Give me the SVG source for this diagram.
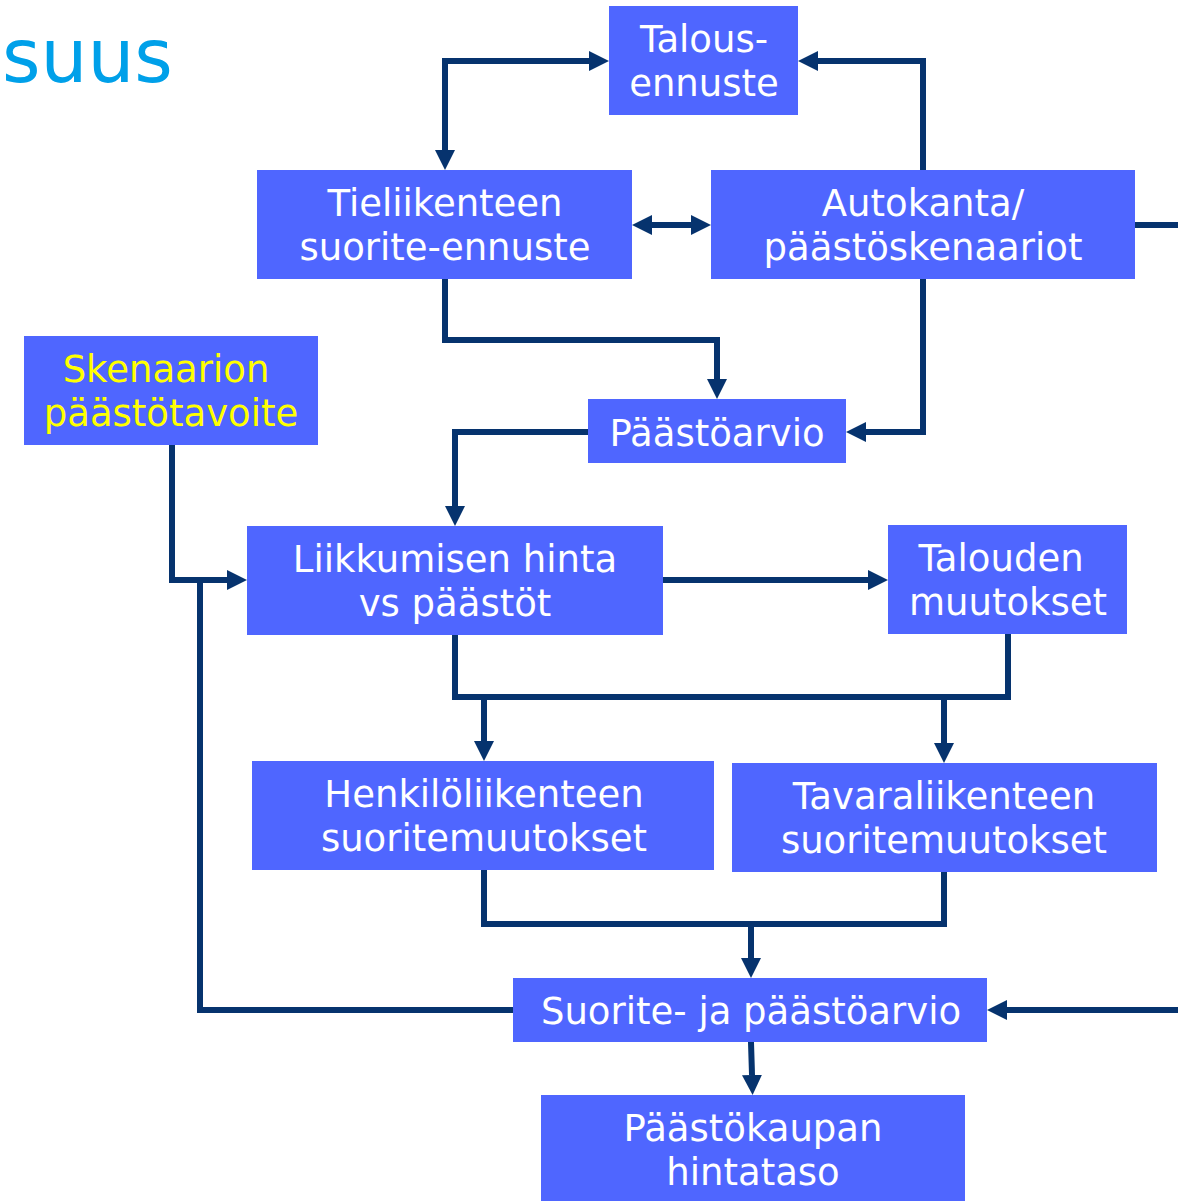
<svg xmlns="http://www.w3.org/2000/svg" width="1178" height="1201" viewBox="0 0 1178 1201">
<style>
.box{fill:#4F66FF}
.t{font-family:"DejaVu Sans",Verdana,sans-serif;font-size:37px;fill:#ffffff;text-anchor:middle}
.y{fill:#FFFF00}
.c{fill:none;stroke:#06336E;stroke-width:6;stroke-linejoin:miter}
</style>
<defs>
<marker id="ah" viewBox="0 0 20 20" refX="0" refY="10" markerWidth="20" markerHeight="20" markerUnits="userSpaceOnUse" orient="auto-start-reverse">
<path d="M0,0 L20,10 L0,20 z" fill="#06336E"/>
</marker>
</defs>
<rect width="1178" height="1201" fill="#ffffff"/>
<text x="2" y="82" style="font-family:'DejaVu Sans',Verdana,sans-serif;font-size:74px;fill:#00A0E9">suus</text>

<g id="connectors">
<path class="c" d="M445,150 V61 H589" marker-start="url(#ah)" marker-end="url(#ah)"/>
<path class="c" d="M923,170 V61 H818" marker-end="url(#ah)"/>
<path class="c" d="M652,225 H691" marker-start="url(#ah)" marker-end="url(#ah)"/>
<path class="c" d="M1135,225 H1178"/>
<path class="c" d="M445,279 V340 H717 V379" marker-end="url(#ah)"/>
<path class="c" d="M923,279 V432 H866" marker-end="url(#ah)"/>
<path class="c" d="M588,432 H455 V506" marker-end="url(#ah)"/>
<path class="c" d="M172,445 V580 H227" marker-end="url(#ah)"/>
<path class="c" d="M513,1010 H200 V580"/>
<path class="c" d="M663,580 H868" marker-end="url(#ah)"/>
<path class="c" d="M455,635 V697 H1008 V634"/>
<path class="c" d="M484,697 V741" marker-end="url(#ah)"/>
<path class="c" d="M944,697 V743" marker-end="url(#ah)"/>
<path class="c" d="M484,870 V924 H944 V872"/>
<path class="c" d="M751,924 V958" marker-end="url(#ah)"/>
<path class="c" d="M1178,1010 H1007" marker-end="url(#ah)"/>
<path class="c" d="M751,1042 L752,1075" marker-end="url(#ah)"/>
</g>

<g id="talous">
<rect class="box" x="609" y="6" width="189" height="109"/>
<text class="t" x="704" y="52">Talous-</text>
<text class="t" x="704" y="96">ennuste</text>
</g>
<g id="tieliikenne">
<rect class="box" x="257" y="170" width="375" height="109"/>
<text class="t" x="445" y="216">Tieliikenteen</text>
<text class="t" x="445" y="260">suorite-ennuste</text>
</g>
<g id="autokanta">
<rect class="box" x="711" y="170" width="424" height="109"/>
<text class="t" x="923" y="216">Autokanta/</text>
<text class="t" x="923" y="260">päästöskenaariot</text>
</g>
<g id="skenaario">
<rect class="box" x="24" y="336" width="294" height="109"/>
<text class="t y" x="166" y="382">Skenaarion</text>
<text class="t y" x="171" y="426">päästötavoite</text>
</g>
<g id="paastoarvio">
<rect class="box" x="588" y="399" width="258" height="64"/>
<text class="t" x="717" y="446">Päästöarvio</text>
</g>
<g id="liikkuminen">
<rect class="box" x="247" y="526" width="416" height="109"/>
<text class="t" x="455" y="572">Liikkumisen hinta</text>
<text class="t" x="455" y="616">vs päästöt</text>
</g>
<g id="talouden">
<rect class="box" x="888" y="525" width="239" height="109"/>
<text class="t" x="1001" y="571">Talouden</text>
<text class="t" x="1008" y="615">muutokset</text>
</g>
<g id="henkilo">
<rect class="box" x="252" y="761" width="462" height="109"/>
<text class="t" x="484" y="807">Henkilöliikenteen</text>
<text class="t" x="484" y="851">suoritemuutokset</text>
</g>
<g id="tavara">
<rect class="box" x="732" y="763" width="425" height="109"/>
<text class="t" x="944" y="809">Tavaraliikenteen</text>
<text class="t" x="944" y="853">suoritemuutokset</text>
</g>
<g id="suorite">
<rect class="box" x="513" y="978" width="474" height="64"/>
<text class="t" x="751" y="1024">Suorite- ja päästöarvio</text>
</g>
<g id="paastokauppa">
<rect class="box" x="541" y="1095" width="424" height="106"/>
<text class="t" x="753" y="1141">Päästökaupan</text>
<text class="t" x="753" y="1185">hintataso</text>
</g>
</svg>
